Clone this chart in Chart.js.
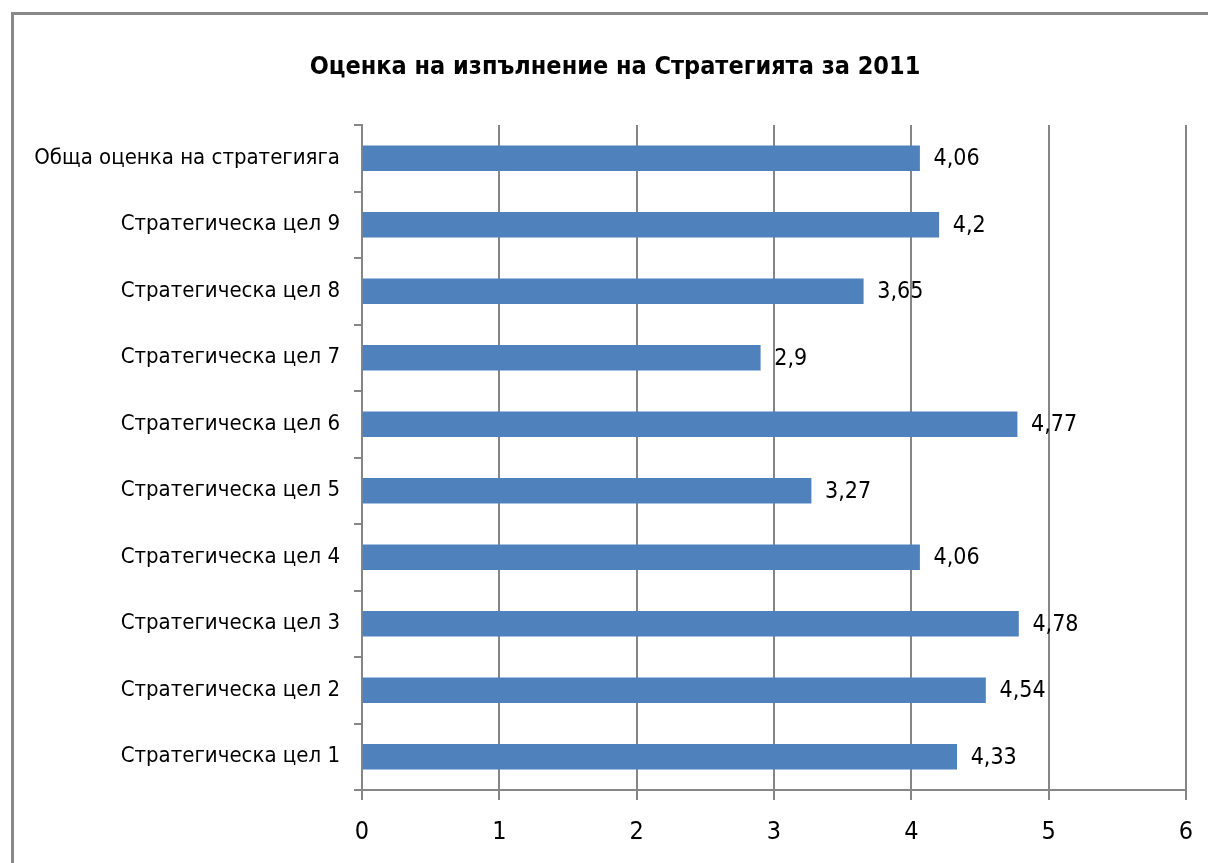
<!DOCTYPE html>
<html>
<head>
<meta charset="utf-8">
<script src="https://cdn.jsdelivr.net/npm/chart.js@4/dist/chart.umd.min.js"></script>
<style>
  html, body { margin: 0; padding: 0; background: #fff; }
  #wrap { position: absolute; left: 0; top: 0; width: 1208px; height: 863px; }
  #frame { position: absolute; left: 11px; top: 12px; width: 1300px; height: 1000px; border: 3px solid #888888; box-sizing: border-box; }
</style>
</head>
<body>
<div id="wrap">
  <div id="frame"></div>
  <canvas id="c" width="1208" height="863" style="position:absolute;left:0;top:0;width:1208px;height:863px"></canvas>
</div>
<script>
const chartTitle = "Оценка на изпълнение на Стратегията за 2011";
const categories = [
  "Обща оценка на стратегияга",
  "Стратегическа цел 9",
  "Стратегическа цел 8",
  "Стратегическа цел 7",
  "Стратегическа цел 6",
  "Стратегическа цел 5",
  "Стратегическа цел 4",
  "Стратегическа цел 3",
  "Стратегическа цел 2",
  "Стратегическа цел 1"
];
const values = [4.06, 4.2, 3.65, 2.9, 4.77, 3.27, 4.06, 4.78, 4.54, 4.33];
const xTicks = [0, 1, 2, 3, 4, 5, 6];

const FONT = "'DejaVu Sans Condensed', 'DejaVu Sans', sans-serif";
const GRID = "#868686";

const titleAndLabels = {
  id: 'titleAndLabels',
  afterDatasetsDraw(chart) {
    const ctx = chart.ctx;
    const meta = chart.getDatasetMeta(0);
    ctx.save();
    ctx.font = "23px " + FONT;
    ctx.fillStyle = "#000";
    ctx.textBaseline = "middle";
    ctx.textAlign = "left";
    meta.data.forEach((bar, i) => {
      const txt = String(values[i]).replace('.', ',');
      ctx.fillText(txt, bar.x + 14, bar.y + 1);
    });
    ctx.font = "bold 25px " + FONT;
    ctx.textAlign = "center";
    ctx.fillText(chartTitle, 615, 67);
    ctx.restore();
  }
};

new Chart(document.getElementById('c'), {
  type: 'bar',
  data: {
    labels: categories,
    datasets: [{
      data: values,
      backgroundColor: '#4F81BD',
      borderWidth: 0,
      barThickness: 25
    }]
  },
  options: {
    indexAxis: 'y',
    responsive: false,
    animation: false,
    layout: { padding: { left: 12, right: 22, top: 125, bottom: 0 } },
    plugins: {
      legend: { display: false },
      tooltip: { enabled: false },
      title: { display: false }
    },
    scales: {
      x: {
        min: 0, max: 6,
        afterBuildTicks(scale) { scale.ticks = xTicks.map(v => ({ value: v })); },
        afterFit(scale) { scale.height = 73; scale.paddingRight = 0; scale.paddingLeft = 0; },
        grid: { color: GRID, lineWidth: 2, tickLength: 10, drawTicks: true },
        border: { color: GRID, width: 2 },
        ticks: { color: '#000', font: { family: FONT, size: 25 }, padding: 17 }
      },
      y: {
        afterFit(scale) { scale.width = 350; },
        grid: { drawOnChartArea: false, color: GRID, lineWidth: 2, tickLength: 8, offset: true },
        border: { color: GRID, width: 2 },
        ticks: { color: '#000', font: { family: FONT, size: 22 }, padding: 14 }
      }
    }
  },
  plugins: [titleAndLabels]
});
</script>
</body>
</html>
